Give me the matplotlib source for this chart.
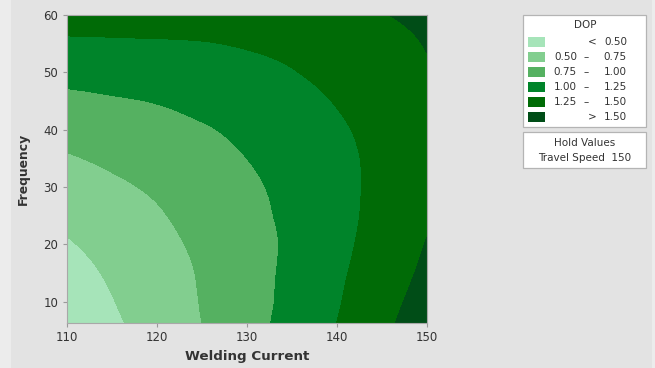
import numpy as np
import matplotlib
matplotlib.use("Agg")
import matplotlib.pyplot as plt
import matplotlib.tri as mtri
from matplotlib.patches import Rectangle

# Predicted DOP on a welding current x frequency grid (travel speed held at 150)
welding_current = [110, 115, 120, 125, 130, 135, 140, 145, 150]
frequency = [6.3, 10, 15, 20, 25, 30, 35, 40, 45, 50, 55, 60]
dop = [
    [0.31, 0.46, 0.60, 0.75, 0.91, 1.08, 1.25, 1.44, 1.64],
    [0.35, 0.49, 0.62, 0.76, 0.91, 1.06, 1.23, 1.41, 1.60],
    [0.41, 0.53, 0.65, 0.77, 0.91, 1.05, 1.21, 1.37, 1.55],
    [0.48, 0.58, 0.69, 0.79, 0.91, 1.04, 1.19, 1.34, 1.51],
    [0.55, 0.64, 0.73, 0.82, 0.93, 1.05, 1.18, 1.32, 1.47],
    [0.63, 0.71, 0.78, 0.86, 0.96, 1.06, 1.18, 1.31, 1.45],
    [0.73, 0.79, 0.85, 0.92, 1.00, 1.09, 1.19, 1.31, 1.44],
    [0.83, 0.88, 0.93, 0.98, 1.05, 1.13, 1.22, 1.32, 1.44],
    [0.95, 0.98, 1.01, 1.06, 1.11, 1.18, 1.26, 1.35, 1.45],
    [1.07, 1.09, 1.12, 1.14, 1.18, 1.24, 1.31, 1.39, 1.48],
    [1.21, 1.22, 1.23, 1.24, 1.27, 1.31, 1.37, 1.43, 1.51],
    [1.36, 1.35, 1.35, 1.35, 1.36, 1.39, 1.43, 1.49, 1.55],
]
contour_levels = [0.50, 0.75, 1.00, 1.25, 1.50]
band_labels = [("", "<", "0.50"), ("0.50", "–", "0.75"), ("0.75", "–", "1.00"),
               ("1.00", "–", "1.25"), ("1.25", "–", "1.50"), ("", ">", "1.50")]
band_colors = ["#a6e4b9", "#82ce8f", "#55b161", "#00842a", "#006b06", "#004d17"]
hold_label = "Travel Speed"
hold_value = 150

FONT = ["DejaVu Sans"]
TXT = "#333333"
W, H = 655, 368

fig = plt.figure(figsize=(W / 100, H / 100), dpi=100, facecolor="#ececec")
fig.patches.append(Rectangle((11 / W, 0), (652 - 11) / W, 1, transform=fig.transFigure,
                             facecolor="#e3e3e3", edgecolor="none", zorder=-5))

ax = fig.add_axes([66.7 / W, 1 - 322.8 / H, 360 / W, (322.8 - 15) / H], zorder=2)
X, Y = np.meshgrid(welding_current, frequency)
tri = mtri.Triangulation(X.ravel(), Y.ravel())
tri_fine, z_fine = mtri.UniformTriRefiner(tri).refine_field(np.asarray(dop).ravel(), subdiv=5)
ax.tricontourf(tri_fine, z_fine, levels=[-10] + contour_levels + [10], colors=band_colors)
ax.set_xlim(110, 150)
ax.set_ylim(6.3, 60)
ax.set_xticks([110, 120, 130, 140, 150])
ax.set_yticks([10, 20, 30, 40, 50, 60])
for s in ax.spines.values():
    s.set_color("#a8a8a8")
    s.set_linewidth(0.8)
ax.tick_params(colors="#9a9a9a", length=3, width=0.8, labelcolor=TXT, labelsize=8.5, pad=3)
for lab in ax.get_xticklabels() + ax.get_yticklabels():
    lab.set_family(FONT)
ax.set_xlabel("Welding Current", family=FONT, fontsize=9.7, fontweight="bold", color=TXT,
              labelpad=4)
ax.set_ylabel("Frequency", family=FONT, fontsize=8.9, fontweight="bold", color=TXT,
              labelpad=9.5)


def px(x, y):
    return x / W, 1 - y / H


def box(x0, y0, x1, y1):
    fig.patches.append(Rectangle(px(x0, y1), (x1 - x0) / W, (y1 - y0) / H,
                                 transform=fig.transFigure, facecolor="white",
                                 edgecolor="#b4b4b4", linewidth=0.9, zorder=1))


# Legend panel and hold-value panel
box(523, 15, 646, 127)
box(523, 132, 646, 168)
kw = dict(family=FONT, fontsize=7.5, color=TXT, va="center")
fig.text(*px(585, 25), "DOP", ha="center", **kw)
for k, ((lo, mid, hi), col) in enumerate(zip(band_labels, band_colors)):
    yc = 41.7 + 15 * k
    fig.patches.append(Rectangle(px(528, yc + 5), 17 / W, 10 / H, transform=fig.transFigure,
                                 facecolor=col, edgecolor="none", zorder=2))
    if lo:
        fig.text(*px(577, yc), lo, ha="right", **kw)
    fig.text(*px(586 if lo else 592, yc), mid, ha="center", **kw)
    fig.text(*px(627, yc), hi, ha="right", **kw)
fig.text(*px(585, 143), "Hold Values", ha="center", **kw)
fig.text(*px(585, 158), f"{hold_label}  {hold_value}", ha="center", **kw)

plt.savefig("out.png", dpi=100, facecolor=fig.get_facecolor())
